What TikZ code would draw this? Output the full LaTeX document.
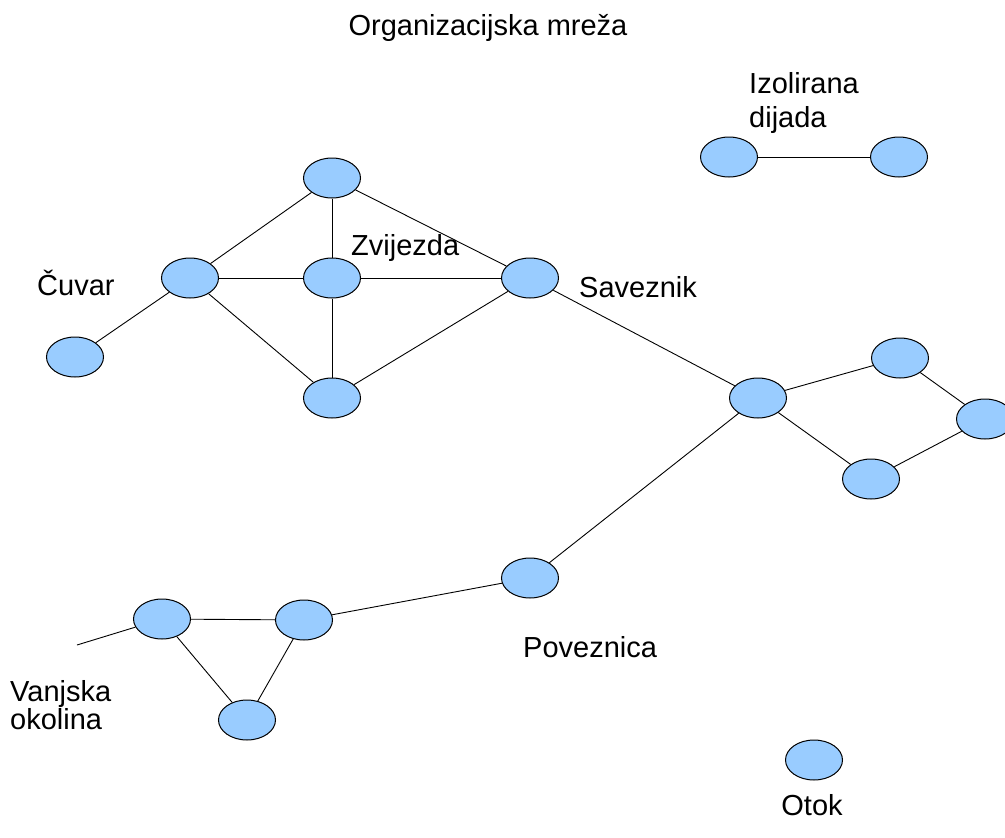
\documentclass[tikz,border=0pt]{standalone}
\usepackage{fontspec}
\setmainfont{Liberation Sans}
\usetikzlibrary{shapes.geometric}
\definecolor{nodeblue}{HTML}{99CCFF}
\begin{document}
\begin{tikzpicture}[x=1pt,y=-1pt,
  actor/.style={ellipse,draw=black,fill=nodeblue,line width=1pt,minimum width=57pt,minimum height=40pt,inner sep=0pt},
  tie/.style={draw=black,line width=0.9pt},
  lbl/.style={font=\fontsize{29}{34}\selectfont,inner sep=0pt,anchor=base west},
]
\useasboundingbox (0,0) rectangle (1005,838);
\clip (0,0) rectangle (1005,838);
\fill[white] (0,0) rectangle (1005,838);
% nodes
\node[actor] (top) at (332,178) {};
\node[actor] (hubL) at (190,278) {};
\node[actor] (star) at (332,278) {};
\node[actor] (ally) at (530,278) {};
\node[actor] (bot) at (332,398) {};
\node[actor] (guard) at (75,357) {};
\node[actor] (dA) at (729,157) {};
\node[actor] (dB) at (899,157) {};
\node[actor] (hubR) at (758,398) {};
\node[actor] (rTop) at (900,358) {};
\node[actor] (rRight) at (985,419) {};
\node[actor] (rBot) at (871,479) {};
\node[actor] (link) at (530,578) {};
\node[actor] (tL) at (162,619) {};
\node[actor] (tR) at (304,620) {};
\node[actor] (tB) at (247,720) {};
\node[actor] (island) at (814,760) {};
\coordinate (ext) at (77,645);
% edges
\draw[tie] (top) -- (hubL);
\draw[tie] (top) -- (star);
\draw[tie] (top) -- (ally);
\draw[tie] (hubL) -- (star);
\draw[tie] (star) -- (ally);
\draw[tie] (hubL) -- (bot);
\draw[tie] (star) -- (bot);
\draw[tie] (bot) -- (ally);
\draw[tie] (hubL) -- (guard);
\draw[tie] (ally) -- (hubR);
\draw[tie] (hubR) -- (rTop);
\draw[tie] (rTop) -- (rRight);
\draw[tie] (rRight) -- (rBot);
\draw[tie] (rBot) -- (hubR);
\draw[tie] (hubR) -- (link);
\draw[tie] (link) -- (tR);
\draw[tie] (tR) -- (tL);
\draw[tie] (tL) -- (tB);
\draw[tie] (tB) -- (tR);
\draw[tie] (tL) -- (ext);
\draw[tie] (dA) -- (dB);
% labels
\node[lbl,anchor=base] (title) at (488,35) {Organizacijska mreža};
\node[lbl] (lIzo) at (749,93) {Izolirana};
\node[lbl] (lDij) at (749,127) {dijada};
\node[lbl] (lZvi) at (351,255) {Zvijezda};
\node[lbl] (lCuv) at (37,295) {Čuvar};
\node[lbl] (lSav) at (579,297) {Saveznik};
\node[lbl] (lPov) at (523,657) {Poveznica};
\node[lbl] (lVan) at (10,701) {Vanjska};
\node[lbl] (lOko) at (10,729) {okolina};
\node[lbl,anchor=base] (lOto) at (812,815) {Otok};
\end{tikzpicture}
\end{document}
